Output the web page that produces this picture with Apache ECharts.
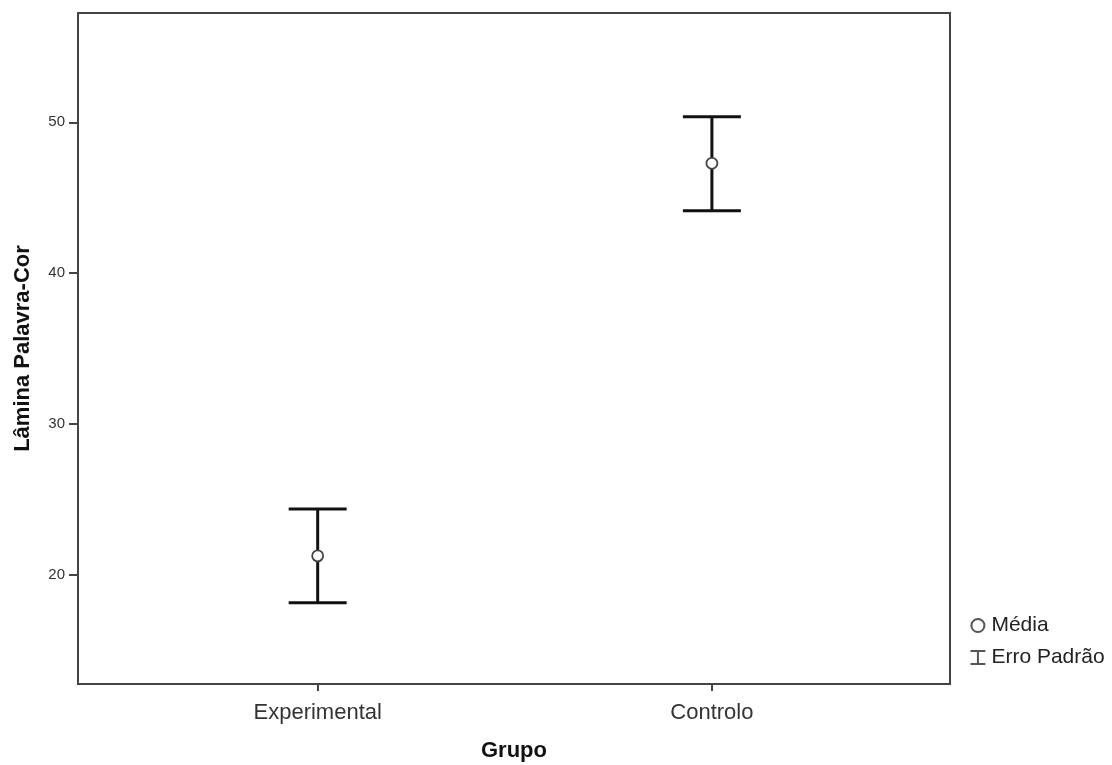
<!DOCTYPE html>
<html>
<head>
<meta charset="utf-8">
<script src="https://cdn.jsdelivr.net/npm/echarts@6/dist/echarts.min.js"></script>
<style>html,body{margin:0;padding:0;background:#fff}#c{width:1112px;height:765px}</style>
</head>
<body>
<div id="c"></div>
<script>
var categories = ['Experimental', 'Controlo'];
var means = [21.27, 47.28];
var lower = [18.17, 44.13];
var upper = [24.37, 50.37];
var yTicks = [20, 30, 40, 50];
var xPos = [1, 2];

var chart = echarts.init(document.getElementById('c'), null, {renderer: 'canvas'});
var errData = categories.map(function (c, i) { return [xPos[i], means[i], lower[i], upper[i]]; });
var meanData = categories.map(function (c, i) { return [xPos[i], means[i]]; });
var ibeam = 'path://M0,0 L16,0 M8,0 L8,14 M0,14 L16,14';
var FONT = 'Liberation Sans';

chart.setOption({
  animation: false,
  backgroundColor: '#fff',
  grid: {left: 78, right: 162, top: 13, bottom: 81, show: true, borderColor: '#444', borderWidth: 2,
    containLabel: false, outerBoundsMode: 'none'},
  xAxis: {
    type: 'value', min: 0.392, max: 2.604,
    name: 'Grupo', nameLocation: 'middle', nameGap: 56,
    nameTextStyle: {fontFamily: FONT, fontWeight: 'bold', fontSize: 22, color: '#111'},
    axisLine: {show: true, lineStyle: {color: '#444', width: 2}},
    axisTick: {show: true, length: 7, lineStyle: {color: '#444', width: 2}, customValues: xPos},
    axisLabel: {customValues: xPos, margin: 18, fontFamily: FONT, fontSize: 22, color: '#333',
      formatter: function (v) { var i = xPos.indexOf(v); return i >= 0 ? categories[i] : ''; }},
    splitLine: {show: false}
  },
  yAxis: {
    type: 'value', min: 12.78, max: 57.24,
    name: 'Lâmina Palavra-Cor', nameLocation: 'middle', nameGap: 44, nameRotate: 90,
    nameTextStyle: {fontFamily: FONT, fontWeight: 'bold', fontSize: 22, color: '#111'},
    axisLine: {show: true, lineStyle: {color: '#444', width: 2}},
    axisTick: {show: true, length: 9, lineStyle: {color: '#444', width: 2}, customValues: yTicks},
    axisLabel: {customValues: yTicks, margin: 13, fontFamily: FONT, fontSize: 15, color: '#333'},
    splitLine: {show: false}
  },
  legend: {
    orient: 'vertical', left: 968, top: 615, itemGap: 11, itemWidth: 17, itemHeight: 13,
    padding: 0,
    textStyle: {fontFamily: FONT, fontSize: 21, color: '#222'},
    data: [
      {name: 'Média', icon: 'circle', itemStyle: {color: '#fff', borderColor: '#555', borderWidth: 2}},
      {name: 'Erro Padrão', icon: ibeam, itemStyle: {color: 'none', borderColor: '#555', borderWidth: 2}}
    ]
  },
  series: [
    {
      name: 'Erro Padrão', type: 'custom', data: errData,
      itemStyle: {color: '#111', borderColor: '#111'},
      encode: {x: 0, y: [2, 3]},
      renderItem: function (params, api) {
        var x = api.value(0);
        var lo = api.coord([x, api.value(2)]);
        var hi = api.coord([x, api.value(3)]);
        var hw = 29;
        var style = {stroke: '#111', lineWidth: 3, fill: 'none'};
        return {
          type: 'group',
          children: [
            {type: 'line', shape: {x1: lo[0], y1: lo[1], x2: hi[0], y2: hi[1]}, style: style},
            {type: 'line', shape: {x1: lo[0] - hw, y1: lo[1], x2: lo[0] + hw, y2: lo[1]}, style: style},
            {type: 'line', shape: {x1: hi[0] - hw, y1: hi[1], x2: hi[0] + hw, y2: hi[1]}, style: style}
          ]
        };
      },
      z: 2
    },
    {
      name: 'Média', type: 'scatter', data: meanData, symbol: 'circle', symbolSize: 11,
      itemStyle: {color: '#fff', borderColor: '#444', borderWidth: 1.8, opacity: 1},
      z: 3
    }
  ]
});
</script>
</body>
</html>
